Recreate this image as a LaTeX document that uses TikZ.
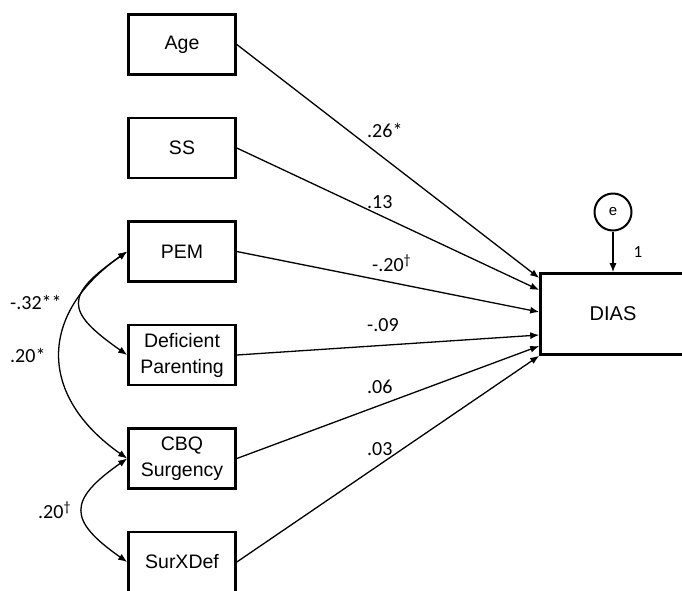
\documentclass[tikz,border=0pt]{standalone}
\usepackage{fontspec}
\setmainfont{Liberation Sans}
\newfontfamily\coeffont{Carlito}
\usetikzlibrary{arrows.meta,calc}

\tikzset{
  varbox/.style={draw, line width=2.6pt, minimum width=107pt, minimum height=60pt, inner sep=1pt, align=center, font=\fontsize{19.5}{26}\selectfont},
  errcirc/.style={draw, circle, line width=2pt, minimum size=37pt, inner sep=0pt, font=\fontsize{15}{18}\selectfont},
  effect/.style={-{Latex[length=9pt,width=7pt]}, line width=1.3pt},
  covar/.style={{Latex[length=9pt,width=7pt]}-{Latex[length=9pt,width=7pt]}, line width=1.3pt},
  coef/.style={anchor=west, inner sep=0pt, font=\coeffont\fontsize{20}{24}\selectfont}
}

\begin{document}
\begin{tikzpicture}[x=1pt,y=1pt,yscale=-1]
    \clip (0,0) rectangle (682,590);
    % predictors
    \node[varbox] (age) at (182,44.5) {Age};
    \node[varbox] (ss) at (182,148) {SS};
    \node[varbox] (pem) at (182,251.5) {PEM};
    \node[varbox] (dp) at (182,355) {Deficient\\Parenting};
    \node[varbox] (cbq) at (182,458.5) {CBQ\\Surgency};
    \node[varbox] (sxd) at (182,562) {SurXDef};
    % outcome and error
    \node[varbox, minimum width=145pt, minimum height=81pt, font=\fontsize{20}{24}\selectfont] (dias) at (613,314) {DIAS};
    \node[errcirc] (err) at (613,212) {e};
    % paths
    \draw[effect] (age.east) -- ($(dias.west)+(0,-36)$);
    \draw[effect] (ss.east) -- ($(dias.west)+(0,-24)$);
    \draw[effect] (pem.east) -- ($(dias.west)+(0,-2)$);
    \draw[effect] (dp.east) -- ($(dias.west)+(0,21)$);
    \draw[effect] (cbq.east) -- ($(dias.west)+(0,32)$);
    \draw[effect] (sxd.east) -- (dias.south west);
    \draw[effect] (err.south) -- (dias.north);
    % covariances
    \draw[covar] (pem.west) to[out=145,in=215,looseness=1.9] (dp.west);
    \draw[covar] (pem.west) to[out=145,in=215,looseness=1.35] (cbq.west);
    \draw[covar] (cbq.west) to[out=145,in=215,looseness=1.8] (sxd.west);
    % coefficients
    \node[coef] (bAge) at (367,130) {.26*};
    \node[coef] (bSS) at (367,202) {.13};
    \node[coef] (bPEM) at (372,263) {-.20\textsuperscript{†}};
    \node[coef] (bDP) at (367,325) {-.09};
    \node[coef] (bCBQ) at (367,387) {.06};
    \node[coef] (bSXD) at (367,449) {.03};
    \node[coef] (cPemDp) at (10,302) {-.32**};
    \node[coef] (cPemCbq) at (10,355) {.20*};
    \node[coef] (cCbqSxd) at (38,510) {.20\textsuperscript{†}};
    \node[coef, anchor=center, font=\coeffont\fontsize{17}{20}\selectfont] (load) at (638,252) {1};
\end{tikzpicture}
\end{document}
